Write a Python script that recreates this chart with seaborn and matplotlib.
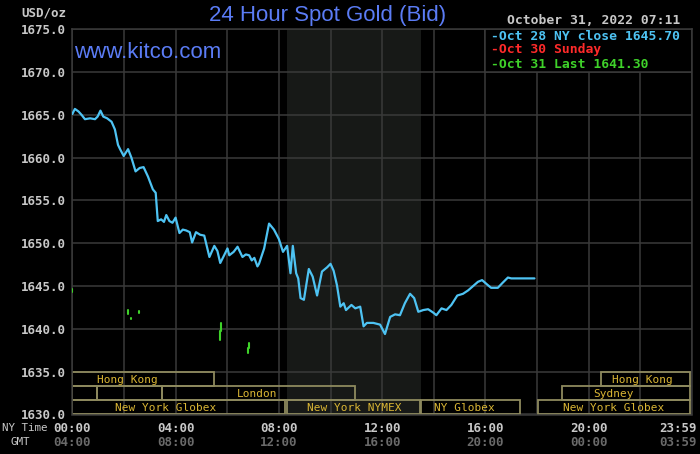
import matplotlib
matplotlib.use("Agg")
import matplotlib.pyplot as plt
from matplotlib.patches import Rectangle
from matplotlib.transforms import blended_transform_factory
import pandas as pd
import seaborn as sns

# ---------------- data ----------------
oct28_hours = [0.00, 0.10, 0.24, 0.36, 0.49, 0.69, 0.88, 0.98, 1.09, 1.20, 1.35, 1.52,
               1.65, 1.77, 1.85, 1.99, 2.16, 2.29, 2.45, 2.61, 2.76, 2.93, 3.12, 3.23,
               3.31, 3.44, 3.55, 3.64, 3.76, 3.88, 4.00, 4.15, 4.28, 4.41, 4.55, 4.64,
               4.79, 4.95, 5.11, 5.31, 5.50, 5.62, 5.73, 5.88, 6.01, 6.08, 6.25, 6.40,
               6.59, 6.72, 6.85, 6.95, 7.05, 7.17, 7.23, 7.43, 7.62, 7.81, 8.00, 8.16,
               8.32, 8.45, 8.54, 8.67, 8.75, 8.84, 8.97, 9.16, 9.31, 9.48, 9.67, 9.87,
               10.00, 10.12, 10.25, 10.38, 10.51, 10.60, 10.81, 10.96, 11.15, 11.28,
               11.41, 11.66, 11.92, 12.11, 12.31, 12.50, 12.69, 12.88, 13.08, 13.24,
               13.40, 13.59, 13.78, 13.98, 14.10, 14.30, 14.49, 14.68, 14.91, 15.13,
               15.33, 15.52, 15.71, 15.87, 16.10, 16.22, 16.48, 16.67, 16.87, 17.00,
               17.90]
oct28_bid = [1665.1, 1665.7, 1665.4, 1665.0, 1664.5, 1664.6, 1664.5, 1664.8, 1665.5,
             1664.8, 1664.6, 1664.2, 1663.3, 1661.5, 1661.0, 1660.2, 1661.0, 1660.0,
             1658.4, 1658.8, 1658.9, 1657.8, 1656.3, 1655.9, 1652.6, 1652.8, 1652.5,
             1653.3, 1652.6, 1652.4, 1653.0, 1651.2, 1651.6, 1651.5, 1651.3, 1650.1,
             1651.3, 1651.0, 1650.9, 1648.4, 1649.7, 1649.1, 1647.7, 1648.6, 1649.4,
             1648.6, 1649.0, 1649.6, 1648.4, 1648.7, 1648.6, 1648.0, 1648.3, 1647.3,
             1647.6, 1649.4, 1652.3, 1651.6, 1650.5, 1649.0, 1649.7, 1646.5, 1649.7,
             1646.5, 1645.9, 1643.6, 1643.4, 1647.0, 1646.1, 1643.9, 1646.7, 1647.2,
             1647.6, 1646.8, 1645.1, 1642.6, 1643.0, 1642.2, 1642.8, 1642.4, 1642.6,
             1640.3, 1640.7, 1640.7, 1640.5, 1639.4, 1641.4, 1641.7, 1641.6, 1643.0,
             1644.1, 1643.6, 1642.0, 1642.2, 1642.3, 1641.9, 1641.6, 1642.4, 1642.2,
             1642.8, 1643.9, 1644.1, 1644.5, 1645.0, 1645.5, 1645.7, 1645.1, 1644.8,
             1644.8, 1645.4, 1646.0, 1645.9, 1645.9]

oct31_hours = [0.00, 0.00, 2.17, 2.17, 2.26, 2.26, 2.57, 2.57, 5.77, 5.77, 5.73, 5.73,
               6.84, 6.84, 6.80, 6.80]
oct31_bid = [1644.7, 1644.3, 1642.2, 1641.7, 1641.3, 1641.1, 1642.1, 1641.9, 1640.7,
             1639.7, 1639.7, 1638.7, 1638.4, 1637.8, 1637.8, 1637.2]
oct31_seg = [0, 0, 1, 1, 2, 2, 3, 3, 4, 4, 5, 5, 6, 6, 7, 7]

ny_close = 1645.70
last_bid = 1641.30
chart_date = "October 31, 2022 07:11"
legend_labels = ["Oct 28 NY close %.2f" % ny_close, "Oct 30 Sunday",
                 "Oct 31 Last %.2f" % last_bid]

y_ticks = [1630, 1635, 1640, 1645, 1650, 1655, 1660, 1665, 1670, 1675]
label_hours = [0, 4, 8, 12, 16, 20, 24]
ny_time_labels = ["00:00", "04:00", "08:00", "12:00", "16:00", "20:00", "23:59"]
gmt_labels = ["04:00", "08:00", "12:00", "16:00", "20:00", "00:00", "03:59"]

nymex_open, nymex_close = 8.3, 13.5

session_names = ["Hong Kong", "", "", "London", "New York Globex", "New York NYMEX",
                 "NY Globex", "New York Globex", "Sydney", "Hong Kong"]
session_start = [0.0, 0.0, 0.96, 3.47, 0.0, 8.32, 13.5, 18.04, 18.96, 20.47]
session_end = [5.48, 0.96, 3.47, 10.95, 8.24, 13.47, 17.34, 23.92, 23.92, 23.92]
session_row = [0, 1, 1, 1, 2, 2, 2, 2, 1, 0]
session_label_hour = [2.12, None, None, 7.15, 3.63, 10.91, 15.2, 20.96, 20.96, 22.06]

# ---------------- style ----------------
sns.set_theme(style="dark")
plt.rcParams.update({
    "figure.facecolor": "black",
    "axes.facecolor": "black",
    "savefig.facecolor": "black",
    "axes.axisbelow": True,
})
plt.rcParams["font.family"] = ["DejaVu Sans Mono", "DejaVu Sans"]

GRID = "#3a3a3a"
CYAN = "#4ec3f3"
RED = "#ff2a2a"
GREEN = "#3fd22a"
BLUE = "#5b7cf5"
LIGHT = "#c8c8c8"
DIM = "#6a6a6a"
BOXEDGE = "#8e8a5e"
BOXTEXT = "#dab634"

W, H = 700, 454
fig = plt.figure(figsize=(W / 100, H / 100), dpi=100)
left, right, top, bottom = 72.3, 692.0, 29.3, 414.5
ax = fig.add_axes([left / W, 1 - bottom / H, (right - left) / W, (bottom - top) / H])
ax.set_facecolor("black")

# shaded NYMEX session
ax.axvspan(nymex_open, nymex_close, color="#171917", zorder=0.2, lw=0)

# lines
df28 = pd.DataFrame({"hour": oct28_hours, "bid": oct28_bid})
sns.lineplot(data=df28, x="hour", y="bid", ax=ax, color=CYAN, lw=1.6,
             estimator=None, sort=False, zorder=4)
df31 = pd.DataFrame({"hour": oct31_hours, "bid": oct31_bid, "seg": oct31_seg})
sns.lineplot(data=df31, x="hour", y="bid", units="seg", ax=ax, color=GREEN, lw=1.5,
             estimator=None, sort=False, zorder=4, legend=False)

ax.set_xlim(0, 24)
ax.set_ylim(1630, 1675)
ax.set_xlabel("")
ax.set_ylabel("")
ax.set_xticks(range(0, 25, 2))
ax.set_xticklabels([])
ax.set_yticks(y_ticks)
ax.set_yticklabels(["%.1f" % v for v in y_ticks], fontfamily="DejaVu Sans Mono",
                   fontweight="bold", fontsize=9, color=LIGHT)
ax.tick_params(axis="both", length=0)
ax.tick_params(axis="y", pad=4.5)
ax.grid(True, color=GRID, lw=1.1)
for s in ax.spines.values():
    s.set_color(GRID)
    s.set_linewidth(1.1)
    s.set_visible(True)

# legend box
ax.add_patch(Rectangle((16, 1670), 8, 5, facecolor="black", edgecolor=GRID,
                       lw=1.1, zorder=1))
leg_colors = [CYAN, RED, GREEN]
for i, (lab, c) in enumerate(zip(legend_labels, leg_colors)):
    fig.text(491 / W, 1 - (36 + 14 * i) / H, "-" + lab, ha="left", va="center",
             color=c, fontsize=9.4, fontweight="bold", family="DejaVu Sans Mono")

# session boxes
row_top = 1635.0
row_h = 1.65
for name, s, e, r, lh in zip(session_names, session_start, session_end,
                             session_row, session_label_hour):
    y0 = row_top - (r + 1) * row_h
    ax.add_patch(Rectangle((s, y0), e - s, row_h, fill=False, edgecolor=BOXEDGE,
                           lw=1.3, zorder=2))
    if name:
        ax.text(lh, y0 + row_h / 2, name, ha="center", va="center_baseline",
                color=BOXTEXT, fontsize=8, family="DejaVu Sans Mono", zorder=3)

# x labels (two rows)
bt = blended_transform_factory(ax.transData, ax.transAxes)
for h, ny, gmt in zip(label_hours, ny_time_labels, gmt_labels):
    dx = -14 if h == 24 else 0
    ax.annotate(ny, xy=(h, 0), xycoords=bt, xytext=(dx, -14), textcoords="offset pixels",
                ha="center", va="center", color=LIGHT, fontsize=9, fontweight="bold",
                family="DejaVu Sans Mono", annotation_clip=False)
    ax.annotate(gmt, xy=(h, 0), xycoords=bt, xytext=(dx, -28), textcoords="offset pixels",
                ha="center", va="center", color=DIM, fontsize=9, fontweight="bold",
                family="DejaVu Sans Mono", annotation_clip=False)

fig.text(48 / W, 1 - 428 / H, "NY Time", ha="right", va="center", color=LIGHT,
         fontsize=7.8, family="DejaVu Sans Mono")
fig.text(30 / W, 1 - 442 / H, "GMT", ha="right", va="center", color=LIGHT,
         fontsize=7.8, family="DejaVu Sans Mono")

# header texts
fig.text(66 / W, 1 - 13 / H, "USD/oz", ha="right", va="center", color=LIGHT,
         fontsize=9, fontweight="bold", family="DejaVu Sans Mono")
fig.text(328 / W, 1 - 16 / H, "24 Hour Spot Gold (Bid)", ha="center", va="center",
         color=BLUE, fontsize=16, family="Liberation Sans")
fig.text(680 / W, 1 - 21 / H, chart_date, ha="right", va="center", color=LIGHT,
         fontsize=9.4, fontweight="bold", family="DejaVu Sans Mono")
fig.text(74 / W, 1 - 52 / H, "www.kitco.com", ha="left", va="center", color=BLUE,
         fontsize=16, family="Liberation Sans")

fig.savefig("out.png", dpi=100, facecolor="black")
